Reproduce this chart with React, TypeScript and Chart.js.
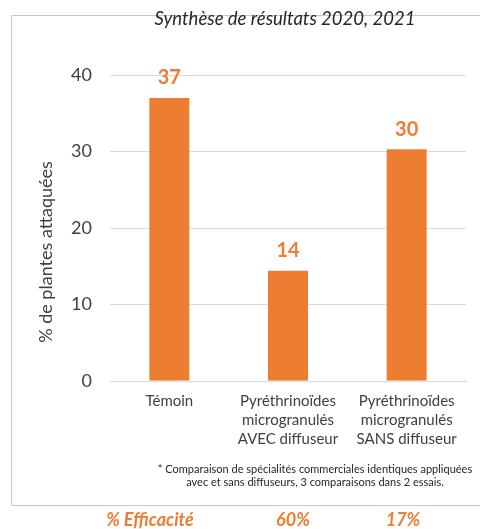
import React, { useEffect, useRef } from "react";
import { Chart, registerables } from "chart.js";

Chart.register(...registerables);

const categories: string[][] = [
  ["Témoin"],
  ["Pyréthrinoïdes", "microgranulés", "AVEC diffuseur"],
  ["Pyréthrinoïdes", "microgranulés", "SANS diffuseur"],
];
const attackedPct: number[] = [37.0, 14.4, 30.3];
const efficacyLabels: string[] = ["% Efficacité", "60%", "17%"];
const chartTitle = "Synthèse de résultats 2020, 2021";
const yAxisTitle = "% de plantes attaquées";
const footnote: string[] = [
  "* Comparaison de spécialités commerciales identiques appliquées",
  "avec et sans diffuseurs, 3 comparaisons dans 2 essais.",
];

const ORANGE = "#ED7D31";
const FONT = "Lato, 'Open Sans', sans-serif";

const extrasPlugin = {
  id: "extras",
  beforeDraw(chart: any) {
    const ctx = chart.ctx;
    ctx.save();
    ctx.fillStyle = "#ffffff";
    ctx.fillRect(0, 0, chart.width, chart.height);
    ctx.strokeStyle = "#c8c8c8";
    ctx.lineWidth = 1;
    ctx.beginPath();
    ctx.moveTo(480, 15.5);
    ctx.lineTo(11.5, 15.5);
    ctx.lineTo(11.5, 505.5);
    ctx.lineTo(480, 505.5);
    ctx.stroke();
    ctx.restore();
  },
  afterDraw(chart: any) {
    const ctx = chart.ctx;
    ctx.save();
    // title
    ctx.fillStyle = "#262626";
    ctx.font = `italic 18.5px ${FONT}`;
    ctx.textAlign = "center";
    ctx.textBaseline = "middle";
    ctx.fillText(chartTitle, 285, 19);
    // y axis title
    ctx.save();
    ctx.translate(46, 252);
    ctx.rotate(-Math.PI / 2);
    ctx.fillStyle = "#404040";
    ctx.font = `18px ${FONT}`;
    ctx.fillText(yAxisTitle, 0, 0);
    ctx.restore();
    // footnote
    ctx.fillStyle = "#262626";
    ctx.font = `11px ${FONT}`;
    ctx.fillText(footnote[0], 315, 469);
    ctx.fillText(footnote[1], 315, 482);
    // efficacy row
    ctx.fillStyle = ORANGE;
    ctx.font = `italic bold 18px ${FONT}`;
    const xs = [150, 293, 403];
    efficacyLabels.forEach((t, i) => ctx.fillText(t, xs[i], 520));
    ctx.restore();
  },
  afterDatasetsDraw(chart: any) {
    const ctx = chart.ctx;
    const meta = chart.getDatasetMeta(0);
    ctx.save();
    ctx.fillStyle = ORANGE;
    ctx.font = `bold 20px ${FONT}`;
    ctx.textAlign = "center";
    ctx.textBaseline = "middle";
    meta.data.forEach((bar: any, i: number) => {
      const v = chart.data.datasets[0].data[i] as number;
      ctx.fillText(String(Math.round(v)), bar.x, bar.y - 20);
    });
    ctx.restore();
  },
};

export default function App() {
  const ref = useRef<HTMLCanvasElement | null>(null);
  useEffect(() => {
    if (!ref.current) return;
    const chart = new Chart(ref.current, {
      type: "bar",
      data: {
        labels: categories,
        datasets: [
          {
            data: attackedPct,
            backgroundColor: ORANGE,
            borderWidth: 0,
            barPercentage: 0.337,
            categoryPercentage: 1,
          },
        ],
      },
      plugins: [extrasPlugin],
      options: {
        responsive: false,
        animation: false,
        devicePixelRatio: 1,
        layout: { padding: { left: 30, top: 75, right: 14, bottom: 0 } },
        plugins: {
          legend: { display: false },
          tooltip: { enabled: false },
          title: { display: false },
        },
        scales: {
          x: {
            grid: { display: false, drawTicks: false },
            border: { display: true, color: "#d9d9d9", width: 1 },
            ticks: {
              color: "#404040",
              font: { family: FONT, size: 15, lineHeight: 1.27 },
              padding: 11,
              maxRotation: 0,
              autoSkip: false,
            },
            afterFit: (s: any) => {
              s.height = 148;
            },
          },
          y: {
            min: 0,
            max: 40,
            grid: { color: "#d9d9d9", drawTicks: false },
            border: { display: false },
            ticks: {
              stepSize: 10,
              color: "#404040",
              font: { family: FONT, size: 18 },
              padding: 18,
            },
            afterFit: (s: any) => {
              s.width = 80;
            },
          },
        },
      },
    });
    return () => chart.destroy();
  }, []);
  return (
    <div style={{ position: "absolute", left: 0, top: 0, width: 480, height: 529 }}>
      <canvas ref={ref} width={480} height={529} style={{ width: 480, height: 529 }} />
    </div>
  );
}
